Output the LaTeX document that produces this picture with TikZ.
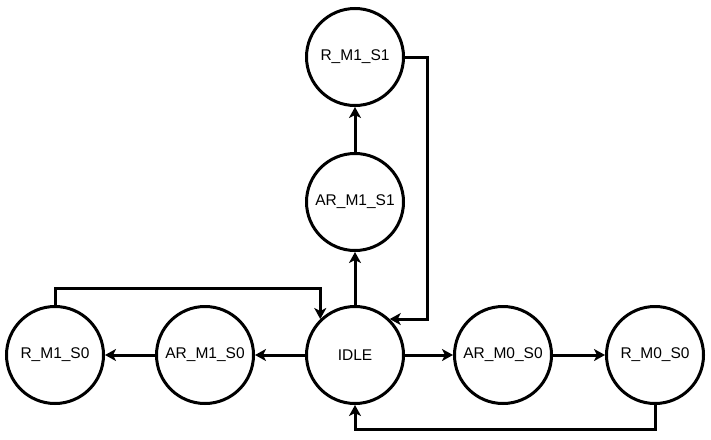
\documentclass[tikz,border=0pt]{standalone}
\usepackage{fontspec}
\setsansfont{Liberation Sans}
\usetikzlibrary{arrows.meta}
\tikzset{state/.style={circle, draw, line width=3pt, minimum size=97pt, inner sep=0pt,
    font=\sffamily\fontsize{15.5}{18}\selectfont}}
\tikzset{link/.style={line width=3pt, -{Stealth[length=11pt,width=12pt,inset=3pt]}}}

\begin{document}
\begin{tikzpicture}[x=1pt,y=-1pt]
  \useasboundingbox (0,0) rectangle (711,439);
  \foreach \x/\y/\name/\lab in {
    355/57/rm1s1/R\_M1\_S1,
    355/202/arm1s1/AR\_M1\_S1,
    355/355/idle/IDLE,
    205/355/arm1s0/AR\_M1\_S0,
    55/355/rm1s0/R\_M1\_S0,
    503/355/arm0s0/AR\_M0\_S0,
    655/355/rm0s0/R\_M0\_S0%
  } {
    \node[state] (\name) at (\x, \y) {\lab};
  }
  \foreach \u/\v in {
    idle/arm1s1,
    arm1s1/rm1s1,
    idle/arm1s0,
    arm1s0/rm1s0,
    idle/arm0s0,
    arm0s0/rm0s0%
  }{
    \draw[link] (\u) -- (\v);
  }

  % returns to IDLE
  \draw[link] (rm1s1.east) -- ++(22,0) |- (idle.46);
  \draw[link] (rm1s0.north) -- ++(0,-17) -| (idle.134);
  \draw[link] (rm0s0.south) -- ++(0,24) -| (idle.south);

\end{tikzpicture}
\end{document}
